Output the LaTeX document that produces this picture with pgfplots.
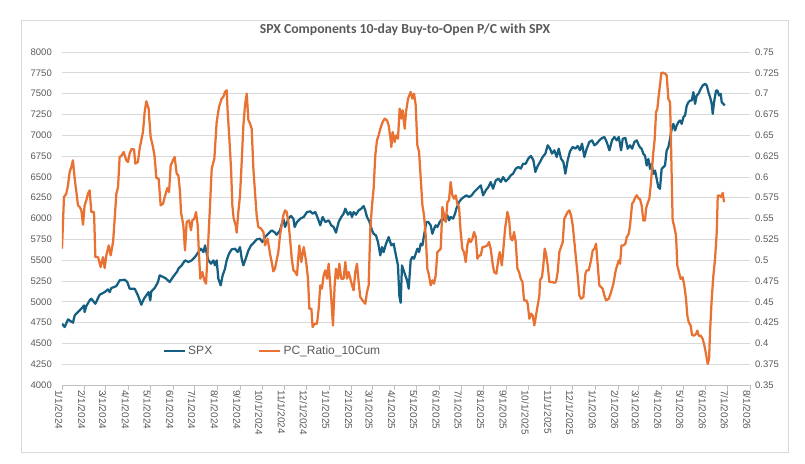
\documentclass[border=0pt]{standalone}
\usepackage{fontspec}
\setmainfont{Liberation Sans}
\newfontfamily\titlefont{Carlito}
\usepackage{pgfplots}
\usepackage{pgfplotstable}
\pgfplotsset{compat=1.18}

\definecolor{spxblue}{HTML}{156082}
\definecolor{pcorange}{HTML}{E97132}
\definecolor{gridgray}{HTML}{D9D9D9}
\definecolor{tickgray}{HTML}{BFBFBF}
\definecolor{labelgray}{HTML}{595959}

% x = days since 1/1/2024
\pgfplotstableread{
day spx
0 4736
3.7 4696
8.2 4788
15 4748
17.4 4836
21.9 4876
26.5 4916
30.2 4956
31 4876
33.3 4948
37.9 5016
40.2 5036
45.7 4976
51.6 5084
58.5 5116
63 5148
65.3 5116
67.6 5164
74.5 5188
79 5257
85.9 5265
89.5 5237
92.7 5157
99.6 5157
104.1 5076
108.7 4964
112.3 5036
118.7 5116
121 5016
122.4 5124
127 5164
131.6 5237
133.9 5317
141.6 5285
147.6 5237
152.1 5297
158 5365
159.5 5397
164 5437
168.6 5497
173.2 5477
177.8 5497
182.3 5537
186.9 5597
190.5 5637
193.8 5597
196.1 5677
198.4 5577
200.7 5497
204.3 5457
207.5 5497
209.7 5437
212 5497
214.3 5277
217.5 5197
220.2 5317
223.4 5397
225.7 5497
228.9 5577
232.6 5629
237.1 5637
240.8 5597
244 5657
246.3 5517
248.6 5437
251.8 5517
255.5 5617
259.1 5677
263.7 5717
266.8 5749
271.4 5757
274.6 5717
278.3 5777
282.8 5817
287.4 5857
291.1 5837
294.2 5805
298.8 5857
303.4 5998
305.7 5898
310.3 5998
313.9 6030
317.2 5998
318.9 5898
322.1 5958
326.7 5998
331.3 6018
335.8 6078
340.4 6086
343.5 6058
347.2 6078
350.8 5998
354 5918
357.2 6018
360.9 5958
365.5 5978
369.1 5918
372.3 5898
375.5 5830
379.2 5958
382.8 6018
386 6058
388.3 6118
392 6046
395.2 6078
397.5 6018
399.7 6078
402.9 6046
406.6 6098
410.2 6118
413.4 6150
415.7 6098
418 6018
421.2 5966
424.9 5857
427.1 5817
430.3 5797
433.1 5717
436.3 5557
438.6 5657
440.9 5597
444.1 5697
447.7 5777
451.4 5677
454.6 5697
456.8 5597
460.5 5437
462.3 5076
464.2 4988
466 5437
468.3 5377
470.6 5317
472.9 5257
475.2 5157
477.9 5497
480.2 5537
482.5 5517
484.8 5577
487.1 5637
489.4 5597
491.7 5697
494 5677
496.2 5797
499.4 5958
502.1 5958
505.3 5918
507.6 5817
509.9 5877
512.2 5918
514.5 5898
517.7 5958
521.4 5998
525 5978
528.3 6038
530.4 5978
532.7 6018
535.9 5998
538.7 6058
540.5 6118
544.2 6198
547.8 6238
551 6258
554.2 6278
557.9 6258
561.5 6278
564.8 6318
567.1 6338
571.7 6378
574 6398
577.2 6278
580.8 6338
584.4 6378
587.6 6438
590.8 6358
594.5 6458
598.2 6478
601.4 6438
604.6 6498
608.2 6446
611.9 6478
615 6518
618.2 6538
621.9 6599
625.6 6619
628.8 6599
632 6659
635.6 6659
639.6 6727
642.8 6751
646.1 6699
648.8 6559
652 6631
655.2 6679
658.8 6739
662.5 6779
665.7 6879
668.9 6839
671.6 6779
674.8 6819
678 6739
680.8 6839
684 6719
687.2 6679
689.9 6539
693.1 6699
696.3 6807
700 6859
703.6 6839
706.8 6871
710 6819
712.8 6899
716 6739
719.2 6839
722.8 6919
726.5 6939
729.7 6879
732.9 6899
736.5 6939
740.2 6967
743.4 6979
746.6 6919
750.3 6819
753.9 6939
757.1 6979
760.3 6939
763.1 6979
766.3 6819
768.6 6959
772.2 6967
775.4 6839
778.6 6879
781.4 6839
784.6 6919
787.8 6939
790.6 6879
792.2 6857
794.5 6837
796.8 6777
799.1 6757
801.4 6636
803.7 6716
806 6596
808.2 6656
810.5 6536
812.8 6576
815.1 6476
817.4 6376
819.6 6356
821.9 6596
824.2 6616
826.5 6636
828.8 6817
831.1 6857
833.4 6957
835.7 7077
838 7137
840.3 7057
842.5 7117
844.8 7157
847.1 7177
849.4 7137
851.7 7217
854 7237
856.3 7357
858.6 7397
860.9 7417
863.1 7417
865.4 7518
867.7 7377
870 7478
872.3 7498
875.5 7558
878.2 7598
881.4 7618
883.7 7598
886 7518
888.3 7458
890.5 7377
891.9 7257
893.7 7397
896.5 7538
898.3 7538
900.6 7478
902.9 7498
904.2 7397
906.5 7377
908.3 7357
}\spxdata

\pgfplotstableread{
day pc
0 0.5137
2.7 0.5758
5.9 0.5798
8.2 0.5898
10.5 0.6059
12.8 0.6119
15 0.6199
17.4 0.5978
19.7 0.5818
21.9 0.5658
24.2 0.5638
26.5 0.5598
28.8 0.5426
31 0.5658
33.3 0.5718
35.6 0.5798
37.9 0.5838
40.2 0.5578
43.9 0.5578
45.7 0.5037
49.3 0.5037
53 0.4917
56.2 0.5037
58.5 0.4905
60.8 0.5057
64 0.5177
66.7 0.5057
70 0.5217
72.2 0.5498
74.5 0.5798
76.8 0.5878
79 0.6239
81.3 0.6251
84.5 0.6299
88.2 0.6199
90.5 0.6179
92.7 0.6279
95 0.6331
98.7 0.6331
100.5 0.6159
104.1 0.6179
106.4 0.6339
108.7 0.6439
111 0.6539
113.3 0.6780
115.6 0.6908
118.7 0.6820
121.5 0.6479
124.7 0.6359
127 0.6239
129.3 0.5987
132.5 0.5978
135.2 0.5658
138.5 0.5678
140.8 0.5758
144.4 0.5866
146.7 0.5818
149 0.6139
152.1 0.6199
154.4 0.6239
157.2 0.6039
159.5 0.6019
161.8 0.5818
163.1 0.5578
166.3 0.5418
168.6 0.5117
170.9 0.5458
174.1 0.5478
176.8 0.5358
178.7 0.5478
181.4 0.5498
183.7 0.5578
186 0.5418
187.8 0.5057
189.6 0.4777
192.4 0.4857
195.1 0.4757
197.4 0.4717
199.7 0.5097
202.9 0.5658
205.2 0.6099
208.8 0.6219
212 0.6659
215.2 0.6840
218.9 0.6940
221.1 0.6960
223.4 0.7020
225.7 0.7040
227.1 0.6780
229.4 0.6459
231.7 0.6099
233.5 0.5658
235.3 0.5498
238.1 0.5418
239.4 0.5330
241.7 0.5578
244 0.5778
246.3 0.6179
248.6 0.6619
250.9 0.6860
253.2 0.7000
255.5 0.6680
257.8 0.6639
260 0.6579
262.3 0.6099
264.5 0.5818
266.8 0.5538
269.1 0.5398
272.8 0.5378
276 0.5338
278.3 0.5177
281.9 0.5257
285.1 0.5077
287.4 0.4977
289.7 0.4865
291.9 0.4897
294.2 0.4997
296.5 0.5097
298.8 0.5297
301.1 0.5418
303.4 0.5538
305.7 0.5598
308 0.5578
310.3 0.5458
312.6 0.5257
314.9 0.5017
317.2 0.4877
319.8 0.4857
322.1 0.4817
323.4 0.4977
325.3 0.5177
328 0.4977
331.3 0.5157
334.4 0.4997
337.2 0.4777
339 0.4416
341.8 0.4416
343.5 0.4196
346.3 0.4236
349.5 0.4236
351.8 0.4416
354 0.4697
356.3 0.4657
358.6 0.4817
360.9 0.4877
363.2 0.4777
365.5 0.4957
369.1 0.4536
371.4 0.4216
373.7 0.4697
375.5 0.4897
378.3 0.4777
380.1 0.4957
382.8 0.4777
386 0.4777
388.3 0.4977
390.6 0.4777
392.9 0.4857
395.2 0.4777
397.5 0.4697
399.7 0.4637
402 0.4857
404.3 0.4957
406.6 0.4737
408.8 0.4556
412 0.4516
415.7 0.4476
418 0.4616
420.3 0.4697
422.6 0.5378
424.9 0.5658
427.1 0.5858
429.4 0.6259
431.7 0.6439
434 0.6499
436.3 0.6579
439.5 0.6659
442.3 0.6700
445.4 0.6680
447.7 0.6619
450 0.6479
451.4 0.6359
453.2 0.6539
456 0.6419
457.8 0.6499
460.5 0.6459
462.8 0.6820
465.1 0.6700
466.9 0.6800
469.7 0.6579
471.5 0.6780
474.3 0.6940
477.9 0.7020
480.2 0.6940
482.5 0.7000
484.8 0.6860
487.1 0.6379
489.4 0.6299
491.7 0.5978
494 0.5658
496.2 0.5538
498.5 0.5297
500.8 0.4897
503 0.4817
505.3 0.4697
507.6 0.4757
509.9 0.4717
512.2 0.4817
514.5 0.5097
516.8 0.5117
519.1 0.5137
521.4 0.5638
523.7 0.5538
526 0.5458
528.3 0.5698
530.4 0.5718
532.7 0.5938
535 0.5778
537.3 0.5738
539.6 0.5778
541.9 0.5678
544.2 0.5638
546.4 0.5338
548.7 0.5137
551 0.5097
553.3 0.4977
555.6 0.5177
557.9 0.5257
560.2 0.5217
562.5 0.5257
564.8 0.5338
567.1 0.5277
569.4 0.5017
571.7 0.5057
574 0.5057
576.3 0.5157
578.6 0.5157
583 0.5177
585.3 0.5217
587.6 0.5137
589.9 0.4977
592.2 0.4857
595.4 0.4837
598.2 0.5017
600 0.5097
602.8 0.4937
604.6 0.5097
607.3 0.5378
610.5 0.5578
612.7 0.5498
615 0.5257
617.3 0.5237
619.6 0.5338
621.9 0.5217
624.2 0.4897
626.5 0.4857
628.8 0.4777
631.1 0.4737
633.3 0.4516
636.5 0.4516
638.3 0.4476
640.6 0.4296
642.8 0.4356
645.1 0.4336
647.4 0.4216
649.7 0.4336
652 0.4456
654.3 0.4576
655.2 0.4757
657.9 0.4797
659.7 0.4937
661.6 0.5137
663.4 0.5077
665.7 0.4937
668 0.4737
671.6 0.4737
674.8 0.4729
677.1 0.4737
679.4 0.4857
681.7 0.5097
684 0.5157
686.3 0.5217
688.5 0.5498
690.8 0.5538
693.1 0.5578
695.4 0.5598
697.7 0.5538
700 0.5418
702.3 0.5217
704.5 0.5017
706.8 0.4817
709.1 0.4576
711.4 0.4536
714.6 0.4556
717.4 0.4837
719.2 0.4877
721.9 0.4877
725.1 0.4997
727.4 0.5117
729.7 0.5137
732 0.5197
734.3 0.4937
736.5 0.4697
738.8 0.4677
741.1 0.4657
743.4 0.4576
745.7 0.4516
749.4 0.4536
752.6 0.4616
755.8 0.4717
758.5 0.4857
760.3 0.4917
763.1 0.4997
764.9 0.4957
766.8 0.5177
769.5 0.5177
772.2 0.5197
774.1 0.5277
776.8 0.5317
778.6 0.5418
781.4 0.5678
783.2 0.5698
786 0.5758
787.8 0.5778
790.6 0.5738
792.2 0.5736
794.5 0.5656
796.8 0.5475
799.1 0.5475
800.5 0.5616
802.3 0.5676
805 0.5736
806.9 0.5896
808.7 0.6096
810.5 0.6297
812.4 0.6457
814.2 0.6777
816 0.6817
817.9 0.6978
819.6 0.7098
821.5 0.7250
824.2 0.7250
827 0.7238
828.8 0.7218
831.1 0.6938
833.4 0.6897
834.7 0.6417
836.1 0.5816
837 0.5475
838.9 0.5415
841.6 0.5295
843.4 0.4935
846.2 0.4834
848 0.4774
850.7 0.4794
853 0.4694
855.3 0.4534
857.1 0.4334
859 0.4254
861.7 0.4213
863.5 0.4101
866.3 0.4093
869 0.4113
870.9 0.4153
872.7 0.4093
875.4 0.4093
878.2 0.4053
880.5 0.3973
882.7 0.3873
885 0.3753
886.9 0.3813
888.2 0.4133
890.5 0.4534
892.8 0.4814
895.1 0.5015
897.4 0.5335
898.8 0.5776
901 0.5776
903.3 0.5756
905.6 0.5808
907.4 0.5696
}\pcdata

\pgfplotsset{
  common/.style={
    scale only axis, width=688pt, height=333pt,
    at={(0pt,0pt)}, anchor=south west,
    xmin=0, xmax=943,
    tick label style={font=\fontsize{9.5}{11}\selectfont, text=labelgray},
    ytick style={draw=none},
  },
}

\begin{document}
\begin{tikzpicture}[x=1pt,y=1pt]
\useasboundingbox (-62,-78) rectangle (743,385);
\draw[gridgray, line width=0.75pt] (-41,-67) rectangle (726,365);
\node[font=\titlefont\bfseries\fontsize{13.75}{16}\selectfont, text=labelgray]
  at (343,355) {SPX Components 10-day Buy-to-Open P/C with SPX};

% left axis: SPX
\begin{axis}[common,
  axis x line*=bottom, axis y line*=left,
  y axis line style={draw=none},
  x axis line style={draw=tickgray, line width=0.75pt},
  xtick style={draw=tickgray, line width=0.75pt},
  tick align=outside, major tick length=5pt,
  ymin=4000, ymax=8000,
  ytick={4000,4250,4500,4750,5000,5250,5500,5750,6000,6250,6500,6750,7000,7250,7500,7750,8000},
  yticklabels={4000,4250,4500,4750,5000,5250,5500,5750,6000,6250,6500,6750,7000,7250,7500,7750,8000},
  yticklabel style={inner sep=0pt, xshift=-5pt},
  ymajorgrids, grid style={gridgray, line width=0.75pt},
  xtick={0,31,60,91,121,152,182,213,244,274,305,335,366,397,425,456,486,517,547,578,609,639,670,700,731,762,790,821,851,882,912,943},
  xticklabels={1/1/2024,2/1/2024,3/1/2024,4/1/2024,5/1/2024,6/1/2024,7/1/2024,8/1/2024,9/1/2024,10/1/2024,11/1/2024,12/1/2024,1/1/2025,2/1/2025,3/1/2025,4/1/2025,5/1/2025,6/1/2025,7/1/2025,8/1/2025,9/1/2025,10/1/2025,11/1/2025,12/1/2025,1/1/2026,2/1/2026,3/1/2026,4/1/2026,5/1/2026,6/1/2026,7/1/2026,8/1/2026},
  xticklabel style={rotate=-90, anchor=west, inner sep=0pt, yshift=-3pt,
    font=\fontsize{10}{12}\selectfont, text=labelgray},
]
\addplot[spxblue, line width=2.25pt, line join=round] table[x=day, y=spx] {\spxdata};
\end{axis}

% right axis: put/call ratio
\begin{axis}[common,
  axis x line=none, axis y line*=right,
  y axis line style={draw=none},
  ymin=0.35, ymax=0.75,
  ytick={0.35,0.375,0.4,0.425,0.45,0.475,0.5,0.525,0.55,0.575,0.6,0.625,0.65,0.675,0.7,0.725,0.75},
  yticklabels={0.35,0.375,0.4,0.425,0.45,0.475,0.5,0.525,0.55,0.575,0.6,0.625,0.65,0.675,0.7,0.725,0.75},
  yticklabel style={inner sep=0pt, xshift=5pt},
  legend style={at={(0.1465,0.102)}, anchor=west, draw=none, fill=none,
    font=\fontsize{12}{14}\selectfont, text=labelgray,
    legend columns=2, inner sep=0pt,
    /tikz/every even column/.append style={column sep=44pt},
    legend cell align=left},
  legend image code/.code={\draw[#1] (0pt,0pt) -- (21pt,0pt);},
]
\addlegendimage{spxblue, line width=2.25pt}
\addlegendentry{SPX}
\addplot[pcorange, line width=2.25pt, line join=round] table[x=day, y=pc] {\pcdata};
\addlegendentry{PC\_Ratio\_10Cum}
\end{axis}
\end{tikzpicture}
\end{document}
